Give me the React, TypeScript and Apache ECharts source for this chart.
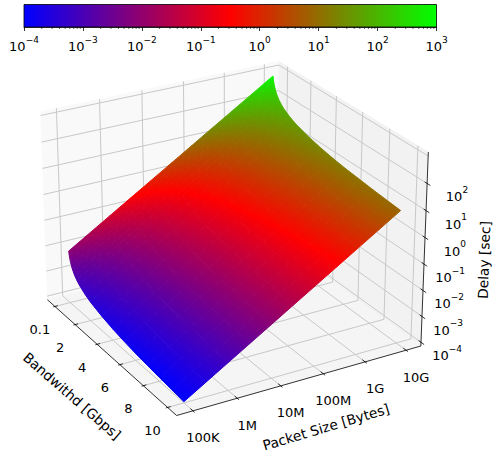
import React, { useEffect, useRef } from "react";
import * as echarts from "echarts";

// ---------- data ----------
const bandwidthGbps = [0.1, 0.15, 0.2, 0.3, 0.4, 0.6, 0.8, 1, 1.5, 2, 3, 4, 5, 6, 7, 8, 9, 10];
const packetExponents = [5, 5.5, 6, 6.5, 7, 7.5, 8, 8.5, 9, 9.5, 10];
// log10 of the delay in seconds: one row per bandwidth, one column per packet size
const logDelay = [
  [-2.10, -1.60, -1.10, -0.60, -0.10, 0.40, 0.90, 1.40, 1.90, 2.40, 2.90],
  [-2.27, -1.77, -1.27, -0.77, -0.27, 0.23, 0.73, 1.23, 1.73, 2.23, 2.73],
  [-2.40, -1.90, -1.40, -0.90, -0.40, 0.10, 0.60, 1.10, 1.60, 2.10, 2.60],
  [-2.57, -2.07, -1.57, -1.07, -0.57, -0.07, 0.43, 0.93, 1.43, 1.93, 2.43],
  [-2.70, -2.20, -1.70, -1.20, -0.70, -0.20, 0.30, 0.80, 1.30, 1.80, 2.30],
  [-2.88, -2.38, -1.88, -1.38, -0.88, -0.38, 0.12, 0.62, 1.12, 1.62, 2.12],
  [-3.00, -2.50, -2.00, -1.50, -1.00, -0.50, 0.00, 0.50, 1.00, 1.50, 2.00],
  [-3.10, -2.60, -2.10, -1.60, -1.10, -0.60, -0.10, 0.40, 0.90, 1.40, 1.90],
  [-3.27, -2.77, -2.27, -1.77, -1.27, -0.77, -0.27, 0.23, 0.73, 1.23, 1.73],
  [-3.40, -2.90, -2.40, -1.90, -1.40, -0.90, -0.40, 0.10, 0.60, 1.10, 1.60],
  [-3.57, -3.07, -2.57, -2.07, -1.57, -1.07, -0.57, -0.07, 0.43, 0.93, 1.43],
  [-3.70, -3.20, -2.70, -2.20, -1.70, -1.20, -0.70, -0.20, 0.30, 0.80, 1.30],
  [-3.80, -3.30, -2.80, -2.30, -1.80, -1.30, -0.80, -0.30, 0.20, 0.70, 1.20],
  [-3.88, -3.38, -2.88, -2.38, -1.88, -1.38, -0.88, -0.38, 0.12, 0.62, 1.12],
  [-3.94, -3.44, -2.94, -2.44, -1.94, -1.44, -0.94, -0.44, 0.06, 0.56, 1.06],
  [-4.00, -3.50, -3.00, -2.50, -2.00, -1.50, -1.00, -0.50, 0.00, 0.50, 1.00],
  [-4.05, -3.55, -3.05, -2.55, -2.05, -1.55, -1.05, -0.55, -0.05, 0.45, 0.95],
  [-4.10, -3.60, -3.10, -2.60, -2.10, -1.60, -1.10, -0.60, -0.10, 0.40, 0.90],
];
const xTicks = [0.1, 2, 4, 6, 8, 10];
const xTickLabels = ["0.1", "2", "4", "6", "8", "10"];
const yTicks = [5, 6, 7, 8, 9, 10];
const yTickLabels = ["100K", "1M", "10M", "100M", "1G", "10G"];
const zTicks = [-4, -3, -2, -1, 0, 1, 2];
const zTickExponents = ["\u22124", "\u22123", "\u22122", "\u22121", "0", "1", "2"];
const zGrid = [-4, -3, -2, -1, 0, 1, 2, 3];
const colorbarMin = 1e-4;
const colorbarMax = 1e3;
const colorbarMinorTicks = [-4, -3, -2, -1, 0, 1, 2].flatMap((e) =>
  [2, 3, 4, 5, 6, 7, 8, 9].map((m) => m * Math.pow(10, e))
);
const xLabel = "Bandwithd [Gbps]";
const yLabel = "Packet Size [Bytes]";
const zLabel = "Delay [sec]";

// ---------- view ----------
const FONT = '"DejaVu Sans"';
const xLim = [-0.395, 10.495];
const yLim = [4.75, 10.25];
const zLim = [-4, 3];
const PAD = 1 / 48;
const azim = (-30 * Math.PI) / 180;
const elev = (25 * Math.PI) / 180;
const DIST = 10;
const SCALE_X = 2340;
const SCALE_Y = 2360;
const CX = 230.5;
const CY = 228.7;
const HX = 0.595;
const HY = 0.595;
const HZ = 0.4465;

const norm = (v: number, lim: number[]) => {
  const r = lim[1] - lim[0];
  return (v - lim[0] + PAD * r) / (r * (1 + 2 * PAD));
};
const R = [-Math.sin(azim), Math.cos(azim), 0];
const U = [
  -Math.sin(elev) * Math.cos(azim),
  -Math.sin(elev) * Math.sin(azim),
  Math.cos(elev),
];
const E = [
  Math.cos(elev) * Math.cos(azim),
  Math.cos(elev) * Math.sin(azim),
  Math.sin(elev),
];
const depth = (tx: number, ty: number, tz: number) =>
  E[0] * (2 * tx - 1) * HX + E[1] * (2 * ty - 1) * HY + E[2] * (2 * tz - 1) * HZ;
// projects fractions of the box (0..1 on each side)
function proj(tx: number, ty: number, tz: number): number[] {
  const p = [(2 * tx - 1) * HX, (2 * ty - 1) * HY, (2 * tz - 1) * HZ];
  const dot = (a: number[]) => a[0] * p[0] + a[1] * p[1] + a[2] * p[2];
  const w = DIST - dot(E);
  return [CX + (SCALE_X * dot(R)) / w, CY - (SCALE_Y * dot(U)) / w];
}

function colorOf(z: number): string {
  const t = (Math.max(-4, Math.min(3, z)) + 4) / 7;
  const r = t < 0.5 ? 2 * t : 2 * (1 - t);
  const g = t < 0.5 ? 0 : 2 * t - 1;
  const b = t < 0.5 ? 1 - 2 * t : 0;
  return `rgb(${Math.round(r * 255)},${Math.round(g * 255)},${Math.round(b * 255)})`;
}

const LINE = "#000000";
const GRID = "#c8c8c8";

function boxElements() {
  const kids: any[] = [];
  const poly = (pts: number[][], fill: string) =>
    kids.push({ type: "polygon", shape: { points: pts }, style: { fill, stroke: fill, lineWidth: 0.5 } });
  const line = (a: number[], b: number[], stroke: string, lineWidth: number) =>
    kids.push({
      type: "line",
      shape: { x1: a[0], y1: a[1], x2: b[0], y2: b[1] },
      style: { stroke, lineWidth },
    });
  const text = (p: number[], t: string, extra: any = {}, rot = 0) =>
    kids.push({
      type: "text",
      x: p[0],
      y: p[1],
      rotation: rot,
      style: {
        text: t,
        fill: "#000",
        fontFamily: FONT,
        fontSize: 13,
        align: "center",
        verticalAlign: "middle",
        ...extra,
      },
    });

  // panes
  poly([proj(0, 0, 0), proj(0, 1, 0), proj(0, 1, 1), proj(0, 0, 1)], "#f9f9f9");
  poly([proj(0, 1, 0), proj(1, 1, 0), proj(1, 1, 1), proj(0, 1, 1)], "#f2f2f2");
  poly([proj(0, 0, 0), proj(1, 0, 0), proj(1, 1, 0), proj(0, 1, 0)], "#f5f5f5");

  // grid
  xTicks.forEach((v) => {
    const t = norm(v, xLim);
    line(proj(t, 0, 0), proj(t, 1, 0), GRID, 1);
    line(proj(t, 1, 0), proj(t, 1, 1), GRID, 1);
  });
  yTicks.forEach((v) => {
    const t = norm(v, yLim);
    line(proj(1, t, 0), proj(0, t, 0), GRID, 1);
    line(proj(0, t, 0), proj(0, t, 1), GRID, 1);
  });
  zGrid.forEach((v) => {
    const t = norm(v, zLim);
    line(proj(0, 0, t), proj(0, 1, t), GRID, 1);
    line(proj(0, 1, t), proj(1, 1, t), GRID, 1);
  });

  // axis lines
  line(proj(0, 0, 0), proj(1, 0, 0), LINE, 0.8);
  line(proj(1, 0, 0), proj(1, 1, 0), LINE, 0.8);
  line(proj(1, 1, 0), proj(1, 1, 1), LINE, 0.8);

  // ticks + tick labels
  xTicks.forEach((v, i) => {
    const t = norm(v, xLim);
    line(proj(t, -0.007, 0), proj(t, 0.012, 0), LINE, 0.8);
    const p = proj(t, 0, 0);
    text([p[0] - 15, p[1] + 23], xTickLabels[i]);
  });
  yTicks.forEach((v, i) => {
    const t = norm(v, yLim);
    line(proj(1.012, t, 0), proj(0.982, t, 0), LINE, 0.8);
    const p = proj(1, t, 0);
    text([p[0] + 10, p[1] + 27], yTickLabels[i]);
  });
  zTicks.forEach((v, i) => {
    const t = norm(v, zLim);
    line(proj(1.02, 1, t), proj(0.985, 1, t), LINE, 0.8);
    const p = proj(1, 1, t);
    text([p[0] + 41, p[1] + 11], `{b|10}{s|${zTickExponents[i]}}`, {
      align: "right",
      rich: {
        b: { fontFamily: FONT, fontSize: 13, lineHeight: 18, verticalAlign: "bottom", fill: "#000" },
        s: { fontFamily: FONT, fontSize: 9, lineHeight: 18, verticalAlign: "top", fill: "#000" },
      },
    });
  });

  // axis titles
  text([72, 396], xLabel, { fontSize: 13.8 }, (-41 * Math.PI) / 180);
  text([326, 427], yLabel, { fontSize: 13.8 }, (16.6 * Math.PI) / 180);
  text([484, 260], zLabel, { fontSize: 13.8 }, (88 * Math.PI) / 180);
  return kids;
}

// surface cells, far to near
const surfaceCells: number[][] = [];
for (let i = 0; i < bandwidthGbps.length - 1; i++) {
  for (let j = 0; j < packetExponents.length - 1; j++) surfaceCells.push([i, j]);
}
const vertexT = (i: number, j: number) => [
  norm(bandwidthGbps[i], xLim),
  norm(packetExponents[j], yLim),
  norm(logDelay[i][j], zLim),
];
const cellDepth = (c: number[]) => {
  const a = vertexT(c[0], c[1]);
  const b = vertexT(c[0] + 1, c[1] + 1);
  return depth(a[0], a[1], a[2]) + depth(b[0], b[1], b[2]);
};
surfaceCells.sort((a, b) => cellDepth(a) - cellDepth(b));

function cellPaint(i: number, j: number) {
  const idx = [[i, j], [i + 1, j], [i + 1, j + 1], [i, j + 1]];
  const pts = idx.map(([a, b]) => {
    const t = vertexT(a, b);
    return proj(t[0], t[1], t[2]);
  });
  const zs = idx.map(([a, b]) => logDelay[a][b]);
  const zMean = (zs[0] + zs[1] + zs[2] + zs[3]) / 4;
  const cx = (pts[0][0] + pts[1][0] + pts[2][0] + pts[3][0]) / 4;
  const cy = (pts[0][1] + pts[1][1] + pts[2][1] + pts[3][1]) / 4;
  const du = [(pts[1][0] + pts[2][0] - pts[0][0] - pts[3][0]) / 2, (pts[1][1] + pts[2][1] - pts[0][1] - pts[3][1]) / 2];
  const dv = [(pts[3][0] + pts[2][0] - pts[0][0] - pts[1][0]) / 2, (pts[3][1] + pts[2][1] - pts[0][1] - pts[1][1]) / 2];
  const dzu = (zs[1] + zs[2] - zs[0] - zs[3]) / 2;
  const dzv = (zs[3] + zs[2] - zs[0] - zs[1]) / 2;
  const det = du[0] * dv[1] - du[1] * dv[0];
  let fill: any = colorOf(zMean);
  if (Math.abs(det) > 1e-6) {
    const gx = (dzu * dv[1] - dzv * du[1]) / det;
    const gy = (dzv * du[0] - dzu * dv[0]) / det;
    const g2 = gx * gx + gy * gy;
    if (g2 > 1e-12) {
      const zA = Math.min(...zs);
      const zB = Math.max(...zs);
      const stops = [{ offset: 0, color: colorOf(zA) }];
      if (zA < -0.5 && zB > -0.5) stops.push({ offset: (-0.5 - zA) / (zB - zA), color: colorOf(-0.5) });
      stops.push({ offset: 1, color: colorOf(zB) });
      fill = {
        type: "linear",
        global: true,
        x: cx + (gx * (zA - zMean)) / g2,
        y: cy + (gy * (zA - zMean)) / g2,
        x2: cx + (gx * (zB - zMean)) / g2,
        y2: cy + (gy * (zB - zMean)) / g2,
        colorStops: stops,
      };
    }
  }
  return { pts, fill };
}

export default function App() {
  const ref = useRef<HTMLDivElement>(null);
  useEffect(() => {
    const chart = echarts.init(ref.current!, undefined, { renderer: "svg" });
    const richLabel = {
      b: { fontFamily: FONT, fontSize: 13, lineHeight: 18, verticalAlign: "bottom", color: "#000" },
      s: { fontFamily: FONT, fontSize: 9, lineHeight: 18, verticalAlign: "top", color: "#000" },
    };
    chart.setOption({
      animation: false,
      backgroundColor: "#ffffff",
      grid: { left: 24, right: 495 - 436.5, top: 4.5, height: 22.5, containLabel: false },
      xAxis: {
        type: "log",
        logBase: 10,
        min: colorbarMin,
        max: colorbarMax,
        interval: 1,
        axisLine: { show: true, onZero: false, lineStyle: { color: "#000", width: 0.8 } },
        axisTick: { show: true, length: 4, lineStyle: { color: "#000", width: 0.8 } },
        minorTick: { show: false },
        splitLine: { show: false },
        axisLabel: {
          show: true,
          margin: 8,
          hideOverlap: false,
          rich: richLabel,
          formatter: (v: number) => {
            const e = Math.round(Math.log10(v));
            return `{b|10}{s|${e < 0 ? "\u2212" + -e : e}}`;
          },
        },
      },
      yAxis: { type: "value", min: 0, max: 1, show: false },
      series: [
        {
          type: "custom",
          name: "colorbar",
          coordinateSystem: "cartesian2d",
          clip: false,
          silent: true,
          data: [[colorbarMin, 0]],
          renderItem: (_p: any, api: any) => {
            const a = api.coord([colorbarMin, 0]);
            const b = api.coord([colorbarMax, 1]);
            return {
              type: "rect",
              shape: { x: a[0], y: b[1], width: b[0] - a[0], height: a[1] - b[1] },
              style: {
                stroke: "#000",
                lineWidth: 0.8,
                fill: {
                  type: "linear",
                  x: 0,
                  y: 0,
                  x2: 1,
                  y2: 0,
                  colorStops: [
                    { offset: 0, color: "#0000ff" },
                    { offset: 0.5, color: "#ff0000" },
                    { offset: 1, color: "#00ff00" },
                  ],
                },
              },
            };
          },
        },
        {
          type: "custom",
          name: "colorbarMinor",
          coordinateSystem: "cartesian2d",
          clip: false,
          silent: true,
          data: colorbarMinorTicks.map((v) => [v, 0]),
          renderItem: (_p: any, api: any) => {
            const a = api.coord([api.value(0), 0]);
            return {
              type: "line",
              shape: { x1: a[0], y1: a[1], x2: a[0], y2: a[1] + 2 },
              style: { stroke: "#000", lineWidth: 0.6 },
            };
          },
        },
        {
          type: "custom",
          name: "box",
          coordinateSystem: "none",
          silent: true,
          z: 1,
          data: [[0]],
          renderItem: () => ({ type: "group", children: boxElements() }),
        },
        {
          type: "custom",
          name: "surface",
          coordinateSystem: "none",
          silent: true,
          z: 2,
          data: surfaceCells,
          renderItem: (_p: any, api: any) => {
            const { pts, fill } = cellPaint(api.value(0), api.value(1));
            return {
              type: "polygon",
              shape: { points: pts },
              style: { fill, stroke: fill, lineWidth: 1 },
            };
          },
        },
      ],
    });
    return () => chart.dispose();
  }, []);
  return (
    <div
      ref={ref}
      style={{ position: "absolute", left: 0, top: 0, width: 495, height: 454 }}
    />
  );
}
